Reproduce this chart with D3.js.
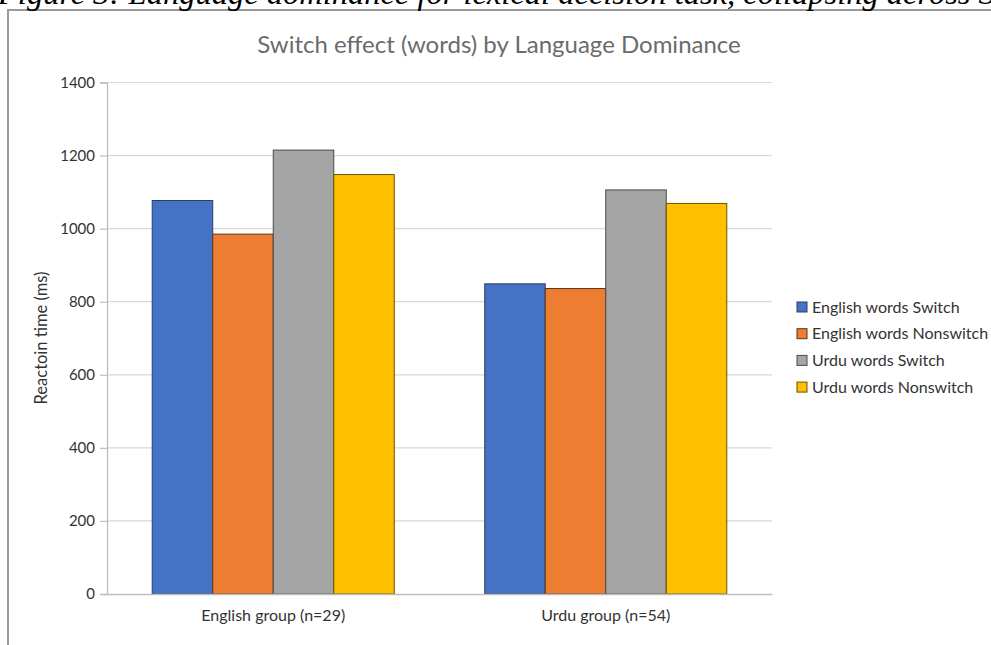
<!DOCTYPE html>
<html>
<head>
<meta charset="utf-8">
<script src="https://cdn.jsdelivr.net/npm/d3@7/dist/d3.min.js"></script>
<style>
  html, body { margin: 0; padding: 0; background: #fff; }
  svg { display: block; }
</style>
</head>
<body>
<svg id="chart" width="991" height="645"></svg>
<script>
// Reaction times by group and word condition
const groups = ["English group (n=29)", "Urdu group (n=54)"];
const seriesNames = ["English words Switch", "English words Nonswitch", "Urdu words Switch", "Urdu words Nonswitch"];
const englishWordsSwitch    = [1077, 849];
const englishWordsNonswitch = [985, 836];
const urduWordsSwitch       = [1215, 1106];
const urduWordsNonswitch    = [1148, 1069];
const yTicks = [0, 200, 400, 600, 800, 1000, 1200, 1400];

const seriesValues = [englishWordsSwitch, englishWordsNonswitch, urduWordsSwitch, urduWordsNonswitch];
const fills   = ["#4472C4", "#ED7D31", "#A5A5A5", "#FFC000"];
const strokes = ["#2a3f66", "#5a3418", "#4a4a4a", "#6b5200"];

const svg = d3.select("#chart");
const W = 991, H = 645;
const font = "Lato, 'Open Sans', sans-serif";

// chart frame
svg.append("rect")
  .attr("x", 8).attr("y", 10)
  .attr("width", W + 20).attr("height", H + 20)
  .attr("fill", "#fff").attr("stroke", "#9a9a9a").attr("stroke-width", 2);

// figure caption running across the top edge
svg.append("text")
  .attr("x", -2).attr("y", 4)
  .attr("font-family", "'Liberation Serif', 'Times New Roman', serif")
  .attr("font-style", "italic")
  .attr("font-size", 32.5)
  .attr("fill", "#000")
  .text("Figure 3: Language dominance for lexical decision task, collapsing across S");

const plot = { left: 107, right: 772, top: 82.5, bottom: 594 };

const x0 = d3.scaleBand().domain(groups)
  .range([plot.left, plot.right]).paddingInner(0.272).paddingOuter(0.136);
const x1 = d3.scaleBand().domain(seriesNames)
  .range([0, x0.bandwidth()]).padding(0);
const y = d3.scaleLinear().domain([0, 1400]).range([plot.bottom, plot.top]);

// title
svg.append("text")
  .attr("x", 499).attr("y", 53)
  .attr("text-anchor", "middle")
  .attr("font-family", font).attr("font-size", 24)
  .attr("fill", "#6b6b6b")
  .text("Switch effect (words) by Language Dominance");

// gridlines
svg.append("g").selectAll("line").data(yTicks.filter(d => d > 0)).join("line")
  .attr("x1", plot.left).attr("x2", plot.right)
  .attr("y1", d => y(d)).attr("y2", d => y(d))
  .attr("stroke", "#d9d9d9").attr("stroke-width", 1.2);

// y axis
const yAxis = svg.append("g")
  .attr("transform", `translate(${plot.left},0)`)
  .call(d3.axisLeft(y).tickValues(yTicks).tickFormat(d3.format("d")).tickSize(7).tickPadding(5));
yAxis.select(".domain").attr("stroke", "#bdbdbd").attr("stroke-width", 1.3);
yAxis.selectAll(".tick line").attr("stroke", "#bdbdbd").attr("stroke-width", 1.2);
yAxis.selectAll(".tick text")
  .attr("font-family", font).attr("font-size", 15).attr("fill", "#333");

// bars
const barData = [];
groups.forEach((g, gi) => {
  seriesNames.forEach((s, si) => {
    barData.push({ group: g, series: s, si, value: seriesValues[si][gi] });
  });
});
svg.append("g").selectAll("rect").data(barData).join("rect")
  .attr("x", d => x0(d.group) + x1(d.series))
  .attr("y", d => y(d.value))
  .attr("width", x1.bandwidth())
  .attr("height", d => y(0) - y(d.value))
  .attr("fill", d => fills[d.si])
  .attr("stroke", d => strokes[d.si])
  .attr("stroke-width", 1);

// x axis
const xAxis = svg.append("g")
  .attr("transform", `translate(0,${plot.bottom})`)
  .call(d3.axisBottom(x0).tickSize(0).tickPadding(16));
xAxis.select(".domain").attr("stroke", "#bdbdbd").attr("stroke-width", 1.3);
xAxis.selectAll(".tick text")
  .attr("font-family", font).attr("font-size", 16).attr("fill", "#333");

// y axis title
svg.append("text")
  .attr("transform", "translate(47,338) rotate(-90)")
  .attr("text-anchor", "middle")
  .attr("font-family", font).attr("font-size", 16.5).attr("fill", "#333")
  .text("Reactoin time (ms)");

// legend
const legend = svg.append("g").attr("transform", "translate(797,302)");
const items = legend.selectAll("g").data(seriesNames).join("g")
  .attr("transform", (d, i) => `translate(0,${i * 26.7})`);
items.append("rect")
  .attr("width", 10).attr("height", 10)
  .attr("fill", (d, i) => fills[i]).attr("stroke", (d, i) => strokes[i]).attr("stroke-width", 1);
items.append("text")
  .attr("x", 15).attr("y", 10.5)
  .attr("font-family", font).attr("font-size", 16).attr("fill", "#333")
  .text(d => d);
</script>
</body>
</html>
